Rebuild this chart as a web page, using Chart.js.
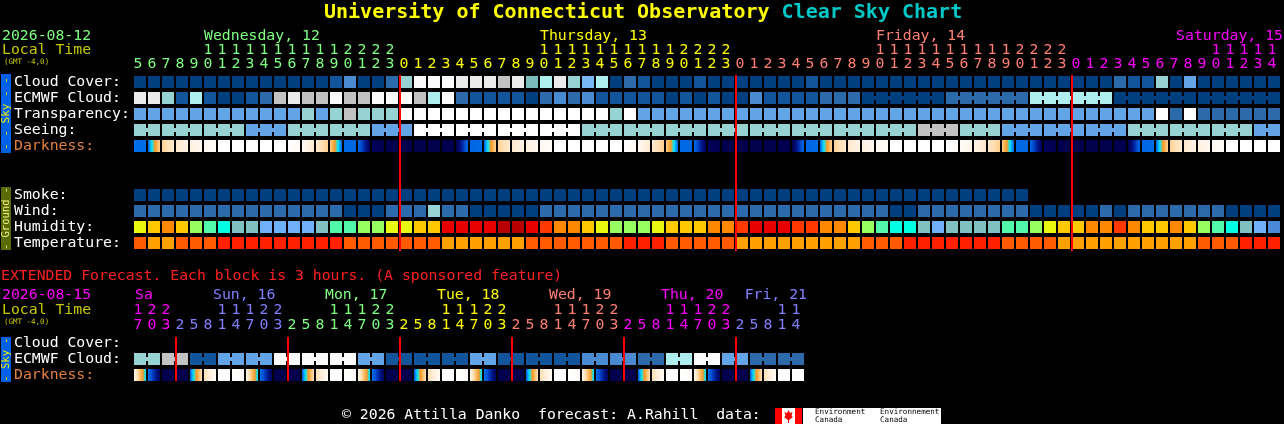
<!DOCTYPE html>
<html>
<head>
<meta charset="utf-8">
<script src="https://cdn.jsdelivr.net/npm/chart.js@4.4.1/dist/chart.umd.min.js"></script>
<style>
html, body { margin: 0; padding: 0; background: #000; overflow: hidden; }
canvas { display: block; }
</style>
</head>
<body>
<canvas id="csc" width="1284" height="424"></canvas>
<script>
// ---- data (hourly block, local time) ----
const topHours = [5,6,7,8,9,10,11,12,13,14,15,16,17,18,19,20,21,22,23,
  0,1,2,3,4,5,6,7,8,9,10,11,12,13,14,15,16,17,18,19,20,21,22,23,
  0,1,2,3,4,5,6,7,8,9,10,11,12,13,14,15,16,17,18,19,20,21,22,23,
  0,1,2,3,4,5,6,7,8,9,10,11,12,13,14];
const topDays = ["Wednesday, 12", "Thursday, 13", "Friday, 14", "Saturday, 15"];

// cloud index 0 = clear ... 11 = overcast
const cloudCover = [
  0,0,0,0,0,0,0,0,0,0,0,0,0,0,1,3,0,0,2,
  7,11,11,11,10,10,10,9,10,6,8,10,7,5,8,0,2,1,0,0,0,1,0,0,
  0,0,0,0,0,1,0,0,0,0,0,0,0,0,0,0,0,0,0,0,0,0,0,0,
  0,0,0,2,1,1,7,0,4,0,0,0,0,0,0];
const ecmwfCloud = [
  10,10,7,1,8,1,0,0,1,2,9,10,9,9,11,9,9,11,11,
  11,9,8,11,2,1,1,1,1,0,2,3,2,3,1,1,1,1,1,0,1,0,1,0,
  0,3,1,1,1,1,2,2,2,0,0,0,0,0,0,2,2,2,2,2,2,8,8,8,
  8,8,8,0,0,0,0,0,0,0,0,0,0,0,0];
const ecmwfSixHourFrom = 52;
// 0 transparent/excellent ... 5 too cloudy
const transparency = [
  2,2,2,2,2,2,2,2,2,2,2,2,3,2,3,4,3,3,3,
  5,5,5,5,5,5,5,5,5,5,5,5,5,5,5,3,5,2,2,2,2,2,2,2,
  2,2,2,2,2,2,2,2,2,2,2,2,2,2,2,2,2,2,2,2,2,2,2,2,
  2,2,2,2,2,2,5,1,5,1,1,1,1,1,1];
const seeing = [
  3,3,3,3,3,3,3,3,2,2,2,3,3,3,3,3,3,2,2,
  2,5,5,5,5,5,5,5,5,5,5,5,5,3,3,3,3,3,3,3,3,3,3,3,
  3,3,3,3,3,3,3,3,3,3,3,3,3,4,4,4,3,3,3,2,2,2,2,2,
  2,2,2,2,3,3,3,3,3,3,3,3,3,2,2];
// sky darkness at start / end of each block, 0 = daylight ... 10 = full dark
const darkness = [
  [6,6.2],[6.2,2.5],[2.5,1.5],[1.5,1],[1,0.6],[0.6,0.2],[0,0],[0,0],[0,0],[0,0],[0,0],
  [0,0.5],[0.5,1.5],[1.5,2.6],[2.6,6.2],[6.2,6.4],[6.4,9.6],[9.6,10],[10,10],
  [10,10],[10,10],[10,10],[10,10],[10,6.4],[6.4,6.2],[6.2,2.5],[2.5,1.5],[1.5,1],[1,0.6],
  [0.6,0.2],[0,0],[0,0],[0,0],[0,0],[0,0],[0,0.5],[0.5,1.5],[1.5,2.6],[2.6,6.2],[6.2,6.4],
  [6.4,9.6],[9.6,10],[10,10],
  [10,10],[10,10],[10,10],[10,10],[10,6.4],[6.4,6.2],[6.2,2.5],[2.5,1.5],[1.5,1],[1,0.6],
  [0.6,0.2],[0,0],[0,0],[0,0],[0,0],[0,0.3],[0.3,0.8],[0.8,1.6],[1.6,2.6],[2.6,6.2],
  [6.2,6.4],[6.4,9.6],[9.6,10],[10,10],
  [10,10],[10,10],[10,10],[10,10],[10,6.4],[6.4,6.2],[6.2,2.5],[2.5,1.5],[1.5,1],[1,0.6],
  [0.6,0.2],[0,0],[0,0],[0,0],[0,0]];
const smoke = [
  0,0,0,0,0,0,0,0,0,0,0,0,0,0,0,0,0,0,0,
  0,0,0,0,0,0,0,0,0,0,0,0,0,0,0,0,0,0,0,0,0,0,0,0,
  0,0,0,0,0,0,0,0,0,0,0,0,0,0,0,0,0,0,0,0,0,null,null,null,
  null,null,null,null,null,null,null,null,null,null,null,null,null,null,null];
const wind = [
  1,1,1,1,1,1,1,1,1,1,1,1,1,1,1,0,0,0,1,
  1,1,3,1,1,0,0,0,0,0,1,1,1,1,1,1,1,1,1,1,1,1,1,1,
  1,1,1,1,1,1,1,1,1,1,1,0,0,1,1,1,1,1,1,1,1,0,0,0,
  0,0,1,0,1,1,1,1,1,1,1,0,0,0,0];
// humidity index 0 = driest ... 11 = wettest
const humidity = [
  6,7,8,7,5,4,3,2,2,1,1,1,1,2,4,4,5,5,6,
  6,7,7,10,10,10,10,11,11,10,9,8,8,7,6,5,5,5,6,7,7,7,8,8,
  9,10,10,10,9,9,8,8,7,5,4,3,3,2,1,2,2,2,2,4,4,5,6,7,
  7,8,8,9,8,7,7,8,7,5,4,3,2,1,0];
// temperature index 0 = coolest ... 2 = warmest
const temperature = [
  1,0,0,1,1,1,2,2,2,2,2,2,2,2,2,1,1,1,1,
  1,1,1,0,0,0,0,0,0,1,1,1,1,1,1,1,2,2,2,1,1,1,1,1,
  0,0,0,0,0,0,0,0,0,1,1,1,2,2,2,2,2,2,2,1,1,1,1,0,
  0,0,0,0,0,0,0,0,0,1,1,1,2,2,2];

// ---- extended forecast, 3 hour blocks ----
const extHours = [17,20,23, 2,5,8,11,14,17,20,23, 2,5,8,11,14,17,20,23,
  2,5,8,11,14,17,20,23, 2,5,8,11,14,17,20,23, 2,5,8,11,14,17,20,23, 2,5,8,11,14];
const extDays = ["Sa", "Sun, 16", "Mon, 17", "Tue, 18", "Wed, 19", "Thu, 20", "Fri, 21"];
const extCloudCover = [];
const extEcmwf = [7,7,9,9,1,1,4,4,4,4,11,11,11,11,11,11,4,4,1,1,1,1,1,1,
  4,4,1,1,1,1,1,1,3,3,3,3,2,2,8,8,11,11,4,4,2,2,2,2];
const extDarkness = [
  [0.8,5.2],[6.2,9.6],[10,10],
  [10,10],[6.3,2],[2,0.3],[0,0],[0,0.3],[0.8,5.2],[6.2,9.6],[10,10],
  [10,10],[6.3,2],[2,0.3],[0,0],[0,0.3],[0.8,5.2],[6.2,9.6],[10,10],
  [10,10],[6.3,2],[2,0.3],[0,0],[0,0.3],[0.8,5.2],[6.2,9.6],[10,10],
  [10,10],[6.3,2],[2,0.3],[0,0],[0,0.3],[0.8,5.2],[6.2,9.6],[10,10],
  [10,10],[6.3,2],[2,0.3],[0,0],[0,0.3],[0.8,5.2],[6.2,9.6],[10,10],
  [10,10],[6.3,2],[2,0.3],[0,0],[0,0]];

// ---- styles ----
const MONO = '"DejaVu Sans Mono", "Liberation Mono", monospace';
const cloudColors = ["#003f7f","#13559b","#2c6aac","#4a8ad0","#63a4e6","#78b8f8",
  "#7abcbc","#96d2d2","#aeeeee","#c2c2c2","#eaeaea","#fbfbfb"];
const skyColors = ["#003f7f","#2c6aac","#63a4e6","#96d2d2","#c2c2c2","#ffffff"];
const humidityColors = ["#4a88d8","#70b0f8","#80c0c0","#00ffe0","#50f8a8","#98ff60",
  "#e8f810","#ffc800","#ff8800","#ff3800","#e80000","#b80000"];
const tempColors = ["#ffa000","#ff5a00","#ff2000"];
const darkRamp = ["#ffffff","#fff2e4","#ffe0b8","#ffc070","#ff9820","#00e8ff",
  "#0070e8","#0058d8","#0028a8","#000a70","#00004c"];
const topDayColors = ["#80ff80","#ffff00","#ff8070","#ff00ff"];
const extDayColors = ["#ff00ff","#8080ff","#80ff80","#ffff00","#ff8070","#ff00ff","#8080ff"];
const ROW_H = 12;

function hexRgb(h) { return [1, 3, 5].map(k => parseInt(h.substr(k, 2), 16)); }
function darkColor(d) {
  const k = Math.min(9, Math.floor(d)), t = d - k;
  const a = hexRgb(darkRamp[k]), b = hexRgb(darkRamp[k + 1]);
  return "rgb(" + a.map((v, j) => Math.round(v + (b[j] - v) * t)).join(",") + ")";
}
function darkFill(pairs) {
  return function(c) {
    const p = pairs[c.dataIndex];
    const xs = c.chart.scales.x;
    if (!p || !xs) return darkColor(p ? p[0] : 0);
    const cx = xs.getPixelForValue(c.dataIndex);
    if (!isFinite(cx)) return darkColor(p[0]);
    const g = c.chart.ctx.createLinearGradient(cx - 6, 0, cx + 6, 0);
    const a = p[0], b = p[1];
    g.addColorStop(0, darkColor(a));
    const lo = Math.min(a, b), hi = Math.max(a, b);
    for (let k = Math.ceil(lo); k <= hi; k++) {
      if (k > lo && k < hi) g.addColorStop((k - a) / (b - a), darkColor(k));
    }
    g.addColorStop(1, darkColor(b));
    return g;
  };
}

function row(values, top, fill, joined) {
  return {
    data: values.map(v => v == null ? null : [top, top + ROW_H]),
    backgroundColor: typeof fill === "function" ? fill : (c => fill[values[c.dataIndex]]),
    joined: joined,
    grouped: false,
    barPercentage: 12 / 14,
    categoryPercentage: 1,
    borderWidth: 0,
    borderSkipped: false
  };
}

const datasets = [
  row(cloudCover, 76, cloudColors),
  row(ecmwfCloud, 92, cloudColors, i => i >= ecmwfSixHourFrom &&
    Math.floor((i - ecmwfSixHourFrom) / 6) === Math.floor((i + 1 - ecmwfSixHourFrom) / 6)),
  row(transparency, 108, skyColors),
  row(seeing, 124, skyColors, i => Math.floor((i + 1) / 3) === Math.floor((i + 2) / 3)),
  row(darkness, 140, darkFill(darkness)),
  row(smoke, 189, skyColors),
  row(wind, 205, skyColors),
  row(humidity, 221, humidityColors),
  row(temperature, 237, tempColors),
  row(extCloudCover, 337, cloudColors),
  row(extEcmwf, 353, cloudColors, i => i % 2 === 0),
  row(extDarkness, 369, darkFill(extDarkness))
];

function cellLeft(chart, i) { return chart.scales.x.getPixelForValue(i) - 6; }
function txt(ctx, s, x, y, color, font, align) {
  ctx.font = font || ("14.8px " + MONO);
  ctx.fillStyle = color;
  ctx.textAlign = align || "left";
  ctx.textBaseline = "middle";
  ctx.fillText(s, x, y);
}
function sideBar(ctx, y0, y1, color, label, textColor, size) {
  ctx.fillStyle = color;
  ctx.fillRect(1, y0, 10, y1 - y0);
  ctx.save();
  ctx.translate(6.5, (y0 + y1) / 2);
  ctx.rotate(-Math.PI / 2);
  txt(ctx, label, 0, 0, textColor, size + "px " + MONO, "center");
  ctx.restore();
}
function hourDigits(chart, hours, dayColors, yTens, yOnes) {
  const ctx = chart.ctx;
  let day = 0;
  hours.forEach((h, i) => {
    if (i > 0 && h < hours[i - 1]) day++;
    const x = cellLeft(chart, i) + 4;
    if (h >= 10) txt(ctx, String(Math.floor(h / 10)), x, yTens, dayColors[day], null, "center");
    txt(ctx, String(h % 10), x, yOnes, dayColors[day], null, "center");
  });
}
function midnightLines(chart, hours, y0, y1) {
  const ctx = chart.ctx;
  ctx.fillStyle = "#ff0000";
  hours.forEach((h, i) => {
    if (i > 0 && h < hours[i - 1]) ctx.fillRect(cellLeft(chart, i) - 1, y0, 2, y1 - y0);
  });
}

const cscDecor = {
  id: "cscDecor",
  afterDatasetsDraw(chart) {
    const ctx = chart.ctx;
    // joins between blocks of the same forecast step
    chart.data.datasets.forEach((ds, di) => {
      if (!ds.joined) return;
      const els = chart.getDatasetMeta(di).data;
      for (let i = 0; i < els.length - 1; i++) {
        if (ds.data[i] == null || ds.data[i + 1] == null || !ds.joined(i)) continue;
        const a = els[i], b = els[i + 1];
        const top = Math.min(a.y, a.base);
        ctx.fillStyle = a.options.backgroundColor;
        ctx.fillRect(a.x + a.width / 2, top + 4, (b.x - b.width / 2) - (a.x + a.width / 2), 4);
      }
    });
    midnightLines(chart, topHours, 75, 251);
    midnightLines(chart, extHours, 337, 381);
  },
  afterDraw(chart) {
    const ctx = chart.ctx;
    // title
    const tf = "bold 20px " + MONO;
    const t1 = "University of Connecticut Observatory ";
    txt(ctx, t1, 324, 13, "#ffff00", tf);
    ctx.font = tf;
    txt(ctx, "Clear Sky Chart", 324 + ctx.measureText(t1).width, 13, "#00c8c8", tf);

    // hourly header
    txt(ctx, "2026-08-12", 2, 36, "#80ff80");
    txt(ctx, "Local Time", 2, 50, "#c8c800");
    txt(ctx, "(GMT -4,0)", 4, 62, "#c8c800", "7.5px " + MONO);
    let day = 0;
    topHours.forEach((h, i) => {
      if (i > 0 && h < topHours[i - 1]) day++;
      if (h === 10) {
        ctx.font = "14.8px " + MONO;
        const w = ctx.measureText(topDays[day]).width;
        txt(ctx, topDays[day], Math.min(cellLeft(chart, i), 1283 - w), 36, topDayColors[day]);
      }
    });
    hourDigits(chart, topHours, topDayColors, 50, 64);

    // row labels
    const labels = [["Cloud Cover:", 82], ["ECMWF Cloud:", 98], ["Transparency:", 114],
      ["Seeing:", 130], ["Smoke:", 195], ["Wind:", 211], ["Humidity:", 227], ["Temperature:", 243]];
    labels.forEach(l => txt(ctx, l[0], 14, l[1], "#ffffff"));
    txt(ctx, "Darkness:", 14, 146, "#e08040");
    sideBar(ctx, 74, 153, "#0060e8", "- - Sky - -", "#f0f000", 11);
    sideBar(ctx, 187, 250, "#586a00", "- Ground -", "#f0f080", 10.5);

    // extended header
    txt(ctx, "EXTENDED Forecast. Each block is 3 hours. (A sponsored feature)", 1, 276, "#ff2020");
    txt(ctx, "2026-08-15", 2, 295, "#ff00ff");
    txt(ctx, "Local Time", 2, 310, "#c8c800");
    txt(ctx, "(GMT -4,0)", 4, 322, "#c8c800", "7.5px " + MONO);
    day = 0;
    let placed = -1;
    extHours.forEach((h, i) => {
      if (i > 0 && h < extHours[i - 1]) day++;
      if (placed === day) return;
      let x = null;
      if (h === 11) x = cellLeft(chart, i) - 5;
      else if (i === 0 && extHours.indexOf(2) > 0 && extHours.slice(0, extHours.indexOf(2)).indexOf(11) < 0) x = cellLeft(chart, 0) + 1;
      if (x === null) return;
      ctx.font = "14.8px " + MONO;
      const w = ctx.measureText(extDays[day]).width;
      txt(ctx, extDays[day], Math.min(x, 807 - w), 295, extDayColors[day]);
      placed = day;
    });
    hourDigits(chart, extHours, extDayColors, 310, 325);
    txt(ctx, "Cloud Cover:", 14, 343, "#ffffff");
    txt(ctx, "ECMWF Cloud:", 14, 359, "#ffffff");
    txt(ctx, "Darkness:", 14, 375, "#e08040");
    sideBar(ctx, 337, 382, "#0060e8", "- Sky -", "#f0f000", 10.5);

    // footer
    txt(ctx, "\u00a9 2026 Attilla Danko  forecast: A.Rahill  data:", 342, 415, "#ffffff");
    ctx.fillStyle = "#ff0000";
    ctx.fillRect(775, 408, 27, 16);
    ctx.fillStyle = "#ffffff";
    ctx.fillRect(782, 408, 13, 16);
    ctx.fillRect(803, 408, 138, 16);
    ctx.fillStyle = "#ff0000";
    ctx.beginPath();
    ctx.moveTo(788.5, 410); ctx.lineTo(790, 413); ctx.lineTo(792.5, 412); ctx.lineTo(791.5, 416);
    ctx.lineTo(793, 417); ctx.lineTo(789, 420); ctx.lineTo(789, 423); ctx.lineTo(788, 423);
    ctx.lineTo(788, 420); ctx.lineTo(784, 417); ctx.lineTo(785.5, 416); ctx.lineTo(784.5, 412);
    ctx.lineTo(787, 413); ctx.closePath(); ctx.fill();
    const sf = "7.6px " + MONO;
    txt(ctx, "Environment", 815, 412, "#000000", sf);
    txt(ctx, "Canada", 815, 420, "#000000", sf);
    txt(ctx, "Environnement", 880, 412, "#000000", sf);
    txt(ctx, "Canada", 880, 420, "#000000", sf);
  }
};

new Chart(document.getElementById("csc"), {
  type: "bar",
  data: { labels: topHours.map(String), datasets: datasets },
  options: {
    responsive: false,
    animation: false,
    events: [],
    layout: { padding: { left: 133, right: 3, top: 0, bottom: 0 } },
    plugins: { legend: { display: false }, tooltip: { enabled: false } },
    scales: {
      x: { type: "category", display: false, offset: true, grid: { display: false } },
      y: { type: "linear", display: false, min: 0, max: 424, reverse: true }
    }
  },
  plugins: [cscDecor]
});
</script>
</body>
</html>
